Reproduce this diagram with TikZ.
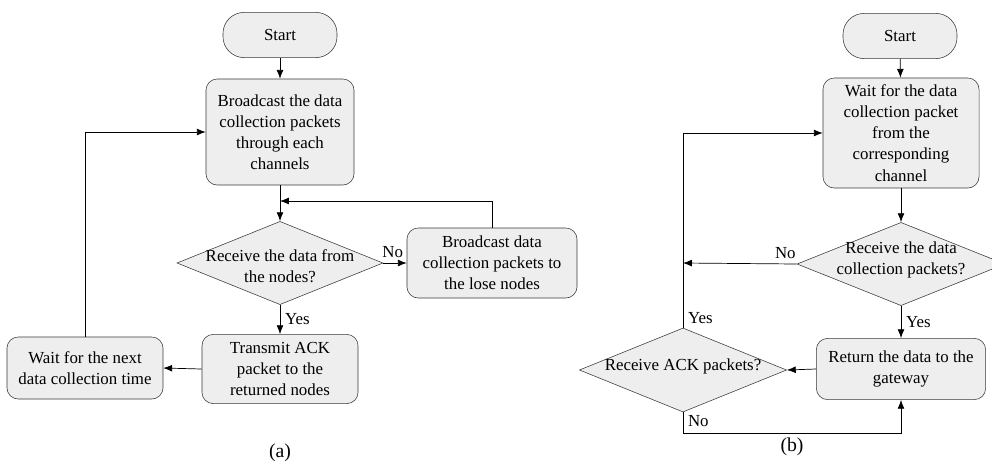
\documentclass[tikz,border=0pt]{standalone}
\usepackage{fontspec}
\setmainfont{Liberation Serif}
\usepackage{tikz}
\usetikzlibrary{shapes.geometric}
\usetikzlibrary{arrows.meta}
\usetikzlibrary{calc}
\usetikzlibrary{positioning}
\definecolor{boxfill}{HTML}{EEEEEE}
\definecolor{boxline}{HTML}{3A3A3A}
\newcommand{\dtxt}[2][0pt]{\smash{\makebox[0pt]{\raisebox{#1}{\begin{tabular}{@{}c@{}}#2\end{tabular}}}}}

\begin{document}
\begin{tikzpicture}[x=0.025cm, y=-0.025cm, >={Latex[length=2.2mm,width=1.7mm]}, every node/.style={font=\fontsize{12}{15}\selectfont}]
				\tikzstyle{startnode}=[draw=boxline, fill=boxfill, rounded corners=15pt, minimum width=2.85cm, minimum height=1.13cm, inner sep=0pt]
				\tikzstyle{procnode}=[draw=boxline, fill=boxfill, rounded corners=8pt, align=center, inner sep=0pt]
				\tikzstyle{decnode}=[draw=boxline, fill=boxfill, diamond, inner sep=0pt]
				\tikzstyle{line}=[draw=black, ->, line width=0.5pt]
				\tikzstyle{sublabel}=[font=\fontsize{14}{16}\selectfont]
				
				\useasboundingbox (0,0) rectangle (992,463);
				
				% (a)
				\node (s1) at (280,35) [startnode] {Start};
				\node (bc1) at (280,132) [procnode, minimum width=3.7cm, minimum height=2.65cm] {Broadcast the data\\collection packets\\through each\\channels};
				\node (d1) at (280,263) [decnode, minimum width=5.15cm, minimum height=2.08cm] {\dtxt[-0.22cm]{Receive the data from\\the nodes?}};
				\node (lose) at (492,263) [procnode, minimum width=4.25cm, minimum height=1.75cm] {Broadcast data\\collection packets to\\the lose nodes};
				\node (ack) at (280,369) [procnode, minimum width=3.9cm, minimum height=1.73cm] {Transmit ACK\\packet to the\\returned nodes};
				\node (nxt) at (85,368) [procnode, minimum width=3.9cm, minimum height=1.55cm] {Wait for the next\\data collection time};
				\coordinate (m1) at (280,201);
				
				\draw [line] (s1) -- (bc1);
				\draw [line] (bc1) -- (d1);
				\draw [line] (d1.east) -- node[above, pos=0.4] {No} (lose.west);
				\draw [line] (lose.north) |- (m1);
				\draw [line] (d1.south) -- node[right] {Yes} (ack.north);
				\draw [line] (ack.west) -- (nxt.east);
				\draw [line] (nxt.north) |- (bc1.west);
				\node (la) at (280,453) [sublabel] {(a)};
				
				% (b)
				\node (s2) at (900,36) [startnode] {Start};
				\node (wt) at (901,133) [procnode, minimum width=3.9cm, minimum height=2.75cm] {Wait for the data\\collection packet\\from the\\corresponding\\channel};
				\node (d2) at (901,264) [decnode, minimum width=5.2cm, minimum height=2.08cm] {\dtxt{Receive the data\\collection packets?}};
				\node (ret) at (901,369) [procnode, minimum width=4.23cm, minimum height=1.53cm] {Return the data to the\\gateway};
				\node (d3) at (683,370) [decnode, minimum width=5.18cm, minimum height=2.1cm] {\dtxt{Receive ACK packets?}};
				\coordinate (m2) at (683,263);
				\coordinate (m3) at (683,433);
				
				\draw [line] (s2) -- (wt);
				\draw [line] (wt) -- (d2);
				\draw [line] (d2.west) -- node[above, pos=0.1] {No} (m2);
				\draw [line] (d2.south) -- node[right] {Yes} (ret.north);
				\draw [line] (ret.west) -- (d3.east);
				\draw [line] (d3.north) -- node[right, pos=0.05] {Yes} (d3.north |- wt.west) -- (wt.west);
				\draw [line] (d3.south) -- node[right, pos=0.4] {No} (m3) -| (ret.south);
				\node (lb) at (792,447) [sublabel] {(b)};
				\end{tikzpicture}
\end{document}
